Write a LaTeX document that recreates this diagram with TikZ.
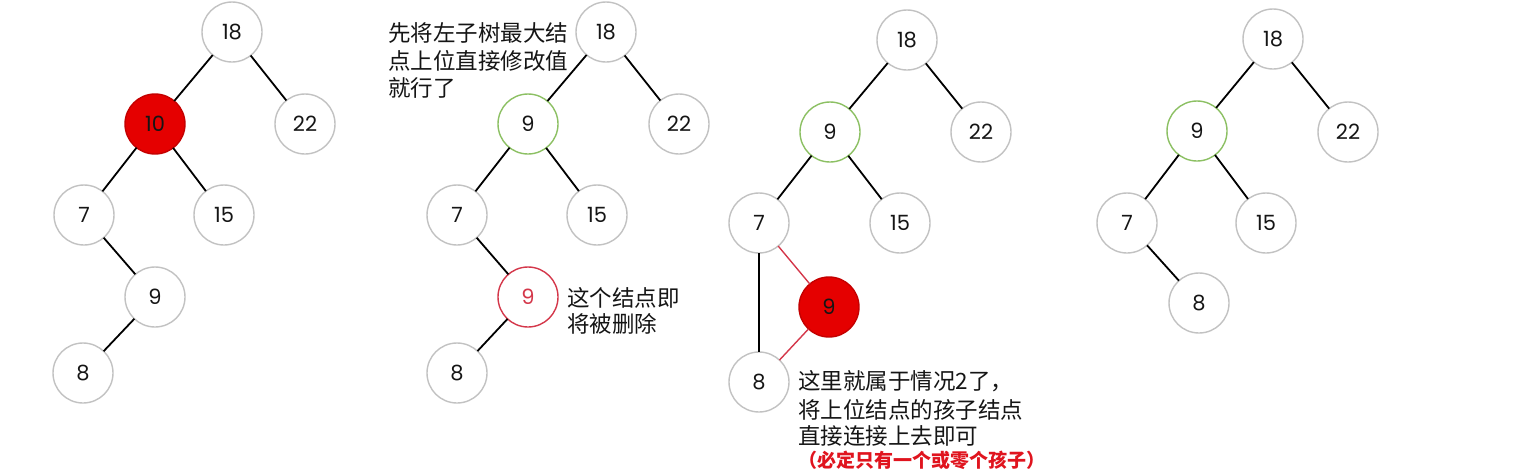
\documentclass[tikz,border=0pt]{standalone}
\usepackage{fontspec}
\setmainfont{Poppins}
\newfontfamily\cjk{Noto Sans CJK SC}
\definecolor{ndgray}{HTML}{C2C2C2}
\definecolor{delred}{HTML}{E50000}
\definecolor{delredd}{HTML}{C40000}
\definecolor{grn}{HTML}{8CC063}
\definecolor{mkred}{HTML}{D4374A}
\definecolor{txt}{HTML}{151515}
\definecolor{warnred}{HTML}{E0141E}
\begin{document}
\begin{tikzpicture}[x=1pt,y=-1pt,
  nd/.style={circle,draw=ndgray,line width=1.4pt,fill=white,minimum size=60pt,inner sep=0pt,outer sep=0pt,font=\fontsize{21}{21}\selectfont,text=txt},
  gone/.style={nd,fill=delred,draw=delredd},
  moved/.style={nd,draw=grn},
  marked/.style={nd,draw=mkred,text=mkred},
  link/.style={line width=1.8pt,draw=black},
  rlink/.style={line width=1.4pt,draw=mkred},
  note/.style={anchor=west,inner sep=0pt,text=txt,font=\cjk\fontsize{22.5}{22.5}\selectfont},
  warn/.style={note,text=warnred,font=\cjk\bfseries\fontsize{19}{19}\selectfont}]
\fill[white] (0,0) rectangle (1539,475);
\useasboundingbox (0,0) rectangle (1539,475);
% tree 1
\node[nd] (a18) at (232,32) {18};
\node[gone] (a10) at (155,124) {10};
\node[nd] (a22) at (305,124) {22};
\node[nd] (a7) at (84,215) {7};
\node[nd] (a15) at (224,215) {15};
\node[nd] (a9) at (155,297) {9};
\node[nd] (a8) at (83,373) {8};
\draw[link] (a18) -- (a10);
\draw[link] (a18) -- (a22);
\draw[link] (a10) -- (a7);
\draw[link] (a10) -- (a15);
\draw[link] (a7) -- (a9);
\draw[link] (a9) -- (a8);
% tree 2
\node[nd] (b18) at (606,32) {18};
\node[moved] (b9) at (528,124) {9};
\node[nd] (b22) at (679,124) {22};
\node[nd] (b7) at (457,215) {7};
\node[nd] (b15) at (597,215) {15};
\node[marked] (b9x) at (528,297) {9};
\node[nd] (b8) at (457,373) {8};
\draw[link] (b18) -- (b9);
\draw[link] (b18) -- (b22);
\draw[link] (b9) -- (b7);
\draw[link] (b9) -- (b15);
\draw[link] (b7) -- (b9x);
\draw[link] (b9x) -- (b8);
\node[note] (t1) at (388,32.5) {先将左子树最大结};
\node[note] (t2) at (388,60.5) {点上位直接修改值};
\node[note] (t3) at (388,87.5) {就行了};
\node[note] (t4) at (567,297.5) {这个结点即};
\node[note] (t5) at (567,324) {将被删除};
% tree 3
\node[nd] (c18) at (907,40) {18};
\node[moved] (c9) at (830,132) {9};
\node[nd] (c22) at (981,132) {22};
\node[nd] (c7) at (759,223) {7};
\node[nd] (c15) at (900,223) {15};
\node[gone] (c9x) at (829,307) {9};
\node[nd] (c8) at (759,382) {8};
\draw[link] (c18) -- (c9);
\draw[link] (c18) -- (c22);
\draw[link] (c9) -- (c7);
\draw[link] (c9) -- (c15);
\draw[link] (c7) -- (c8);
\draw[rlink] (c7) -- (c9x);
\draw[rlink] (c9x) -- (c8);
\node[note] (u1) at (798,381) {这里就属于情况2了，};
\node[note] (u2) at (798,409.5) {将上位结点的孩子结点};
\node[note] (u3) at (798,436) {直接连接上去即可};
\node[warn] (u4) at (798,460) {（必定只有一个或零个孩子）};
% tree 4
\node[nd] (d18) at (1273,39) {18};
\node[moved] (d9) at (1197,131) {9};
\node[nd] (d22) at (1348,132) {22};
\node[nd] (d7) at (1127,223) {7};
\node[nd] (d15) at (1266,223) {15};
\node[nd] (d8) at (1199,303) {8};
\draw[link] (d18) -- (d9);
\draw[link] (d18) -- (d22);
\draw[link] (d9) -- (d7);
\draw[link] (d9) -- (d15);
\draw[link] (d7) -- (d8);
\end{tikzpicture}
\end{document}
